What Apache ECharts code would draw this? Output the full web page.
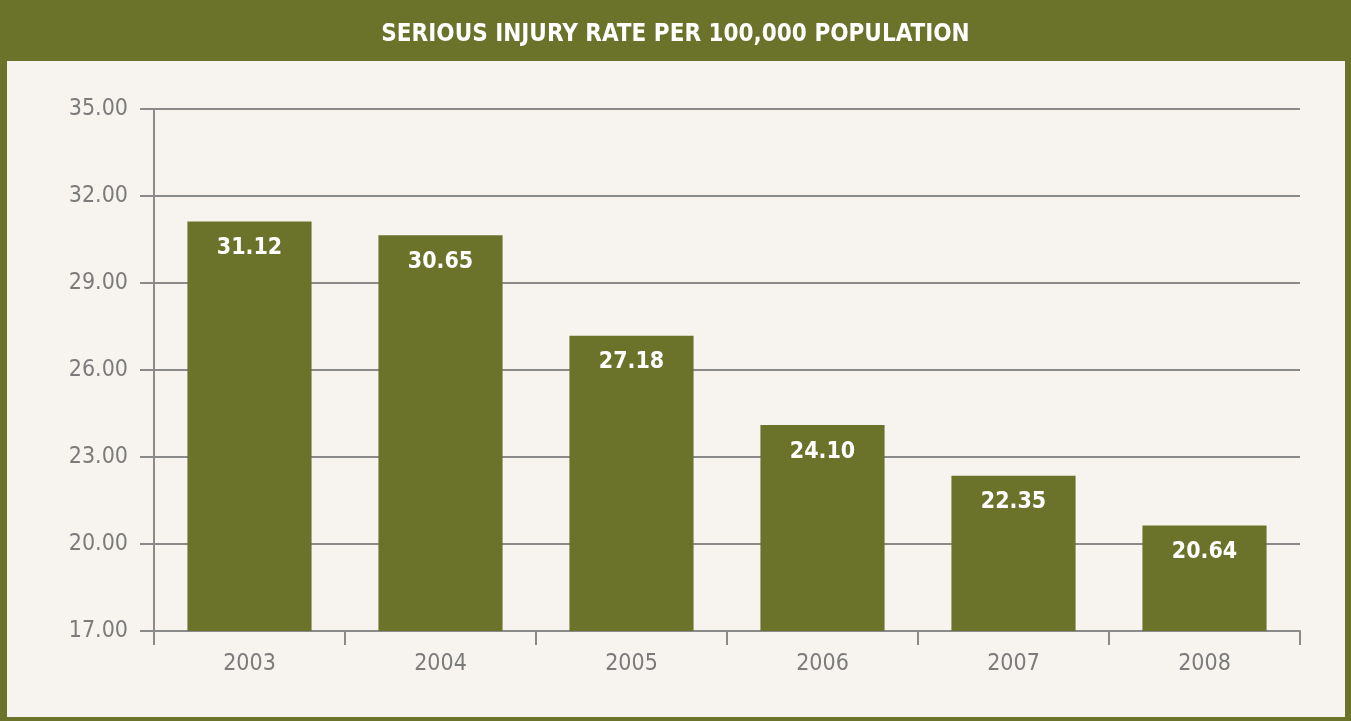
<!DOCTYPE html>
<html>
<head>
<meta charset="utf-8">
<script src="https://cdn.jsdelivr.net/npm/echarts@6/dist/echarts.min.js"></script>
<style>
html,body{margin:0;padding:0;background:#fff;}
#chart{width:1351px;height:721px;}
</style>
</head>
<body>
<div id="chart"></div>
<script>
var titleText = 'SERIOUS INJURY RATE PER 100,000 POPULATION';
var categories = ['2003','2004','2005','2006','2007','2008'];
var values = [31.12, 30.65, 27.18, 24.10, 22.35, 20.64];
var yMin = 17, yMax = 35, yStep = 3;

var olive = '#6b7229';
var grey = '#8a8a8a';
var font = '"Liberation Sans Narrow", "Arial Narrow", "DejaVu Sans Condensed", sans-serif';

var chart = echarts.init(document.getElementById('chart'));
chart.setOption({
  backgroundColor: olive,
  animation: false,
  graphic: [{
    type: 'rect', z: -10, silent: true,
    shape: {x: 7, y: 61, width: 1338, height: 656},
    style: {fill: '#f7f4f0'}
  }],
  title: {
    text: titleText, left: 'center', top: 18,
    textStyle: {color: '#ffffff', fontFamily: font, fontWeight: 'bold', fontSize: 24}
  },
  grid: {left: 154, right: 51, top: 109, bottom: 90},
  xAxis: {
    type: 'category', data: categories,
    axisLine: {lineStyle: {color: grey, width: 2}},
    axisTick: {show: true, length: 14, lineStyle: {color: grey, width: 2}},
    axisLabel: {color: '#7b7b7b', fontFamily: font, fontSize: 23, margin: 22}
  },
  yAxis: {
    type: 'value', min: yMin, max: yMax, interval: yStep,
    axisLine: {show: true, lineStyle: {color: grey, width: 2}},
    axisTick: {show: true, length: 14, lineStyle: {color: grey, width: 2}},
    splitLine: {lineStyle: {color: grey, width: 2}},
    axisLabel: {color: '#7b7b7b', fontFamily: font, fontSize: 23, margin: 26,
      formatter: function(v){ return v.toFixed(2); }}
  },
  series: [{
    type: 'bar', data: values, barWidth: '65%',
    itemStyle: {color: olive},
    label: {show: true, position: 'insideTop', distance: 15, color: '#ffffff',
      fontFamily: font, fontWeight: 'bold', fontSize: 23,
      formatter: function(p){ return p.value.toFixed(2); }}
  }]
});
</script>
</body>
</html>
